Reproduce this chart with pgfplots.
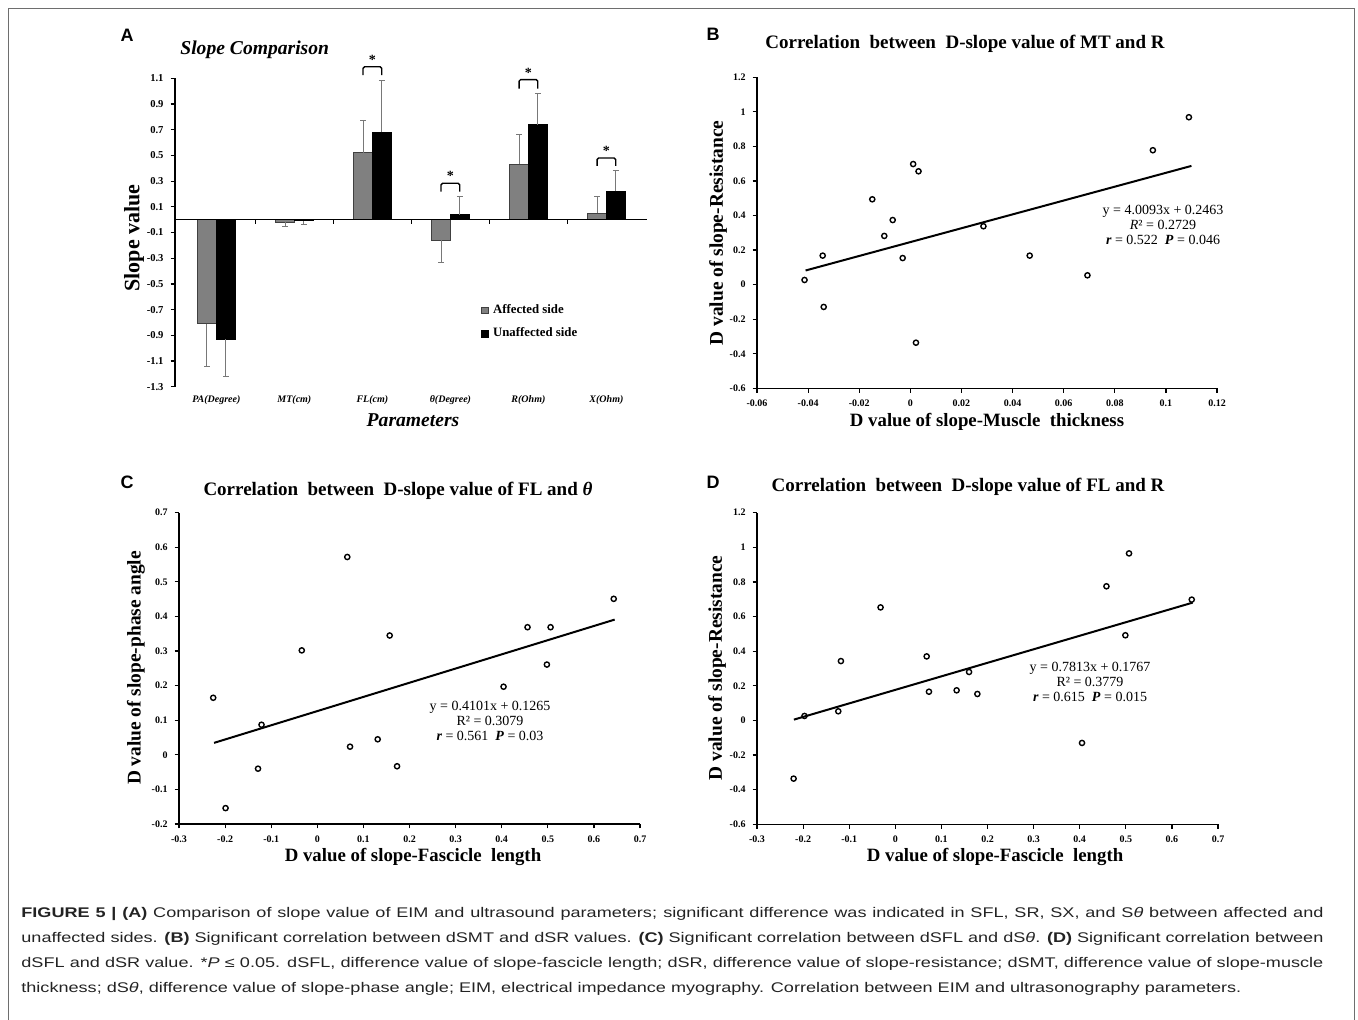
\documentclass[border=0pt]{standalone}
\usepackage{pgfplots}
\pgfplotsset{compat=1.18}
\usepackage{pgfplotstable}
\usepackage{graphicx}
\usepackage{fontspec}
\setmainfont{Liberation Serif}
\newfontfamily\capfont{Liberation Sans}
\definecolor{bargray}{RGB}{128,128,128}
\definecolor{errgray}{RGB}{120,120,120}
\definecolor{captext}{RGB}{35,35,35}
\definecolor{framegray}{RGB}{110,110,110}
\newlength\capw

\pgfplotstableread{
x y ep em
0 -0.81 0 0.33
1 -0.02 0 0.03
3 -0.16 0 0.17
}\affneg
\pgfplotstableread{
x y ep em
2 0.52 0.25 0
4 0.43 0.23 0
5 0.05 0.13 0
}\affpos
\pgfplotstableread{
x y ep em
0 -0.93 0 0.29
1 -0.01 0 0.03
}\unneg
\pgfplotstableread{
x y ep em
2 0.68 0.40 0
3 0.04 0.14 0
4 0.74 0.24 0
5 0.22 0.16 0
}\unpos

\pgfplotstableread{
x y
-0.0414 0.027
-0.0343 0.168
-0.0339 -0.129
-0.0149 0.494
-0.0102 0.282
-0.0069 0.374
-0.0030 0.154
0.0011 0.698
0.0032 0.656
0.0022 -0.336
0.0286 0.338
0.0467 0.168
0.0693 0.054
0.0949 0.778
0.1090 0.969
}\dataB
\pgfplotstableread{
x y
-0.2258 0.165
-0.199 -0.154
-0.121 0.087
-0.1286 -0.040
-0.0337 0.302
0.065 0.572
0.071 0.0236
0.131 0.045
0.157 0.345
0.173 -0.033
0.404 0.197
0.456 0.369
0.506 0.369
0.498 0.261
0.643 0.451
}\dataC
\pgfplotstableread{
x y
-0.2206 -0.336
-0.197 0.026
-0.1237 0.053
-0.118 0.343
-0.032 0.653
0.068 0.370
0.073 0.166
0.133 0.174
0.160 0.280
0.178 0.153
0.405 -0.130
0.458 0.775
0.499 0.492
0.507 0.965
0.643 0.698
}\dataD

\pgfplotsset{
  sc/.style={
    scale only axis,
    axis lines=left,
    axis line style={-, line width=0.7pt},
    tick align=outside,
    major tick length=2.2pt,
    tick style={line width=0.6pt, black},
    /pgf/number format/assume math mode=true,
    ticklabel style={font=\bfseries\fontsize{5}{6}\selectfont},
    xticklabel style={/pgf/number format/fixed, /pgf/number format/precision=2},
    yticklabel style={/pgf/number format/fixed, /pgf/number format/precision=2},
    scaled x ticks=false, scaled y ticks=false,
    clip=false,
  },
  pts/.style={only marks, mark=o, mark size=1.3pt, black, mark options={line width=0.7pt}},
  fit/.style={no marks, black, line width=1pt},
  myleg/.style={legend image code/.code={\draw[##1] (0pt,-1.6pt) rectangle (3.4pt,1.6pt);}},
  errp/.style={draw=none, mark=none, forget plot,
     error bars/.cd, y dir=plus, y explicit,
     error bar style={draw=errgray, line width=0.5pt},
     error mark options={draw=errgray, rotate=90, mark size=1.4pt, line width=0.5pt}},
  errm/.style={draw=none, mark=none, forget plot,
     error bars/.cd, y dir=minus, y explicit,
     error bar style={draw=errgray, line width=0.5pt},
     error mark options={draw=errgray, rotate=90, mark size=1.4pt, line width=0.5pt}},
}

\begin{document}%
\settowidth\capw{\capfont\fontsize{7}{9}\selectfont thickness; dS\textit{θ}, difference value of slope-phase angle; EIM, electrical impedance myography. Correlation between EIM and ultrasonography parameters.}%
\pgfmathsetmacro\capsx{610/\capw}%
\pgfmathsetlengthmacro\capfull{651/\capsx}%
\begin{tikzpicture}
\begin{scope}[x=0.5pt,y=-0.5pt]
\useasboundingbox (0,0) rectangle (1358,1019);
\draw[framegray, line width=0.6pt] (8.5,1040) -- (8.5,8.5) -- (1354.5,8.5) -- (1354.5,1040);
% panel letters
\node[font=\capfont\bfseries\fontsize{9}{10}\selectfont] at (127,35) {A};
\node[font=\capfont\bfseries\fontsize{9}{10}\selectfont] at (713,34) {B};
\node[font=\capfont\bfseries\fontsize{9}{10}\selectfont] at (127,482) {C};
\node[font=\capfont\bfseries\fontsize{9}{10}\selectfont] at (713,482) {D};
% panel A texts
\node[anchor=west, inner sep=0, font=\bfseries\itshape\fontsize{9.8}{10}\selectfont] at (180,50) {Slope Comparison};
\node[rotate=90, font=\bfseries\fontsize{11}{12}\selectfont] at (134,238) {Slope value};
\node[font=\bfseries\itshape\fontsize{9.8}{10}\selectfont] at (413,420) {Parameters};
% panel B texts
\node[font=\bfseries\fontsize{9.5}{10}\selectfont] at (965,44) {Correlation\ \ between\ \ D-slope value of MT and R};
\node[rotate=90, font=\bfseries\fontsize{9.7}{10}\selectfont] at (718,233) {D value of slope-Resistance};
\node[font=\bfseries\fontsize{9.4}{10}\selectfont] at (987,422) {D value of slope-Muscle\ \ thickness};
\node[align=center, font=\fontsize{7}{7.4}\selectfont] at (1163,225) {y = 4.0093x + 0.2463\\ \textit{R}² = 0.2729\\ \textbf{\textit{r}} = 0.522\ \ \textbf{\textit{P}} = 0.046};
% panel C texts
\node[font=\bfseries\fontsize{9.5}{10}\selectfont] at (398,491) {Correlation\ \ between\ \ D-slope value of FL and \textit{θ}};
\node[rotate=90, font=\bfseries\fontsize{9.7}{10}\selectfont] at (136,668) {D value of slope-phase angle};
\node[font=\bfseries\fontsize{9.4}{10}\selectfont] at (413,857) {D value of slope-Fascicle\ \ length};
\node[align=center, font=\fontsize{7}{7.4}\selectfont] at (490,721) {y = 0.4101x + 0.1265\\ R² = 0.3079\\ \textbf{\textit{r}} = 0.561\ \ \textbf{\textit{P}} = 0.03};
% panel D texts
\node[font=\bfseries\fontsize{9.5}{10}\selectfont] at (968,487) {Correlation\ \ between\ \ D-slope value of FL and R};
\node[rotate=90, font=\bfseries\fontsize{9.7}{10}\selectfont] at (717,668) {D value of slope-Resistance};
\node[font=\bfseries\fontsize{9.4}{10}\selectfont] at (995,857) {D value of slope-Fascicle\ \ length};
\node[align=center, font=\fontsize{7}{7.4}\selectfont] at (1090,682) {y = 0.7813x + 0.1767\\ R² = 0.3779\\ \textbf{\textit{r}} = 0.615\ \ \textbf{\textit{P}} = 0.015};
% caption
\begin{scope}[every node/.style={anchor=base west, inner sep=0, text=captext, font=\capfont\fontsize{7}{9}\selectfont}]
\node at (21,917) {\scalebox{\capsx}[1]{\makebox[\capfull][s]{\textbf{FIGURE 5 | (A)} Comparison of slope value of EIM and ultrasound parameters; significant difference was indicated in SFL, SR, SX, and S\textit{θ} between affected and}}};
\node at (21,942) {\scalebox{\capsx}[1]{\makebox[\capfull][s]{unaffected sides. \textbf{(B)} Significant correlation between dSMT and dSR values. \textbf{(C)} Significant correlation between dSFL and dS\textit{θ}. \textbf{(D)} Significant correlation between}}};
\node at (21,967) {\scalebox{\capsx}[1]{\makebox[\capfull][s]{dSFL and dSR value. *\textit{P} ≤ 0.05. dSFL, difference value of slope-fascicle length; dSR, difference value of slope-resistance; dSMT, difference value of slope-muscle}}};
\node at (21,992) {\scalebox{\capsx}[1]{thickness; dS\textit{θ}, difference value of slope-phase angle; EIM, electrical impedance myography. Correlation between EIM and ultrasonography parameters.}};
\end{scope}
\end{scope}

% ---------------- Panel A
\begin{axis}[
  at={(87.5pt,-193.35pt)}, anchor=south west,
  scale only axis, width=236pt, height=154.2pt,
  xmin=-0.53, xmax=5.52, ymin=-1.3, ymax=1.1,
  clip=false,
  axis x line*=bottom, x axis line style={draw=none},
  axis y line*=left, y axis line style={-, line width=0.7pt},
  xtick={0,1,2,3,4,5}, xtick style={draw=none},
  xticklabels={PA(Degree),MT(cm),FL(cm),θ(Degree),R(Ohm),X(Ohm)},
  xticklabel style={font=\bfseries\itshape\fontsize{5}{6}\selectfont, inner sep=1pt, yshift=-1pt},
  ytick={-1.3,-1.1,-0.9,-0.7,-0.5,-0.3,-0.1,0.1,0.3,0.5,0.7,0.9,1.1},
  yticklabel style={font=\bfseries\fontsize{5.3}{6}\selectfont, /pgf/number format/fixed, /pgf/number format/fixed zerofill, /pgf/number format/precision=1},
  /pgf/number format/assume math mode=true,
  tick align=outside, major tick length=2.2pt, ytick style={line width=0.6pt, black},
  legend style={at={(0.648,0.28)}, anchor=north west, draw=none, fill=none, inner sep=0pt,
     font=\bfseries\fontsize{6.4}{7}\selectfont, row sep=1.6pt,
     /tikz/every even column/.append style={column sep=0pt}},
  legend cell align=left,
]
\addplot[ybar, bar width=0.24, bar shift=-0.12, fill=bargray, draw=black!75, line width=0.5pt, myleg]
  table[x=x, y=y] {\affpos};
\addlegendentry{Affected side}
\addplot[ybar, bar width=0.24, bar shift=0.12, fill=black, draw=black, line width=0.5pt, myleg]
  table[x=x, y=y] {\unpos};
\addlegendentry{Unaffected side}
\addplot[ybar, bar width=0.24, bar shift=-0.12, fill=bargray, draw=black!75, line width=0.5pt, forget plot]
  table[x=x, y=y] {\affneg};
\addplot[ybar, bar width=0.24, bar shift=0.12, fill=black, draw=black, line width=0.5pt, forget plot]
  table[x=x, y=y] {\unneg};
% error bars at the bar centres
\addplot[errp] table[x expr=\thisrow{x}-0.12, y=y, y error plus=ep] {\affpos};
\addplot[errp] table[x expr=\thisrow{x}+0.12, y=y, y error plus=ep] {\unpos};
\addplot[errm] table[x expr=\thisrow{x}-0.12, y=y, y error minus=em] {\affneg};
\addplot[errm] table[x expr=\thisrow{x}+0.12, y=y, y error minus=em] {\unneg};
\draw[line width=0.8pt] (axis cs:-0.53,0) -- (axis cs:5.52,0);
\pgfplotsinvokeforeach{0.5,1.5,2.5,3.5,4.5}{\draw[line width=0.5pt] (axis cs:#1,0) -- ++(0pt,-2pt);}
% significance brackets
\draw[line width=0.7pt, rounded corners=0.8pt] (axis cs:1.88,1.125) -- (axis cs:1.88,1.19) -- (axis cs:2.12,1.19) -- (axis cs:2.12,1.125);
\node[font=\bfseries\fontsize{7}{7}\selectfont] at (axis cs:2,1.245) {*};
\draw[line width=0.7pt, rounded corners=0.8pt] (axis cs:2.88,0.218) -- (axis cs:2.88,0.283) -- (axis cs:3.12,0.283) -- (axis cs:3.12,0.218);
\node[font=\bfseries\fontsize{7}{7}\selectfont] at (axis cs:3,0.34) {*};
\draw[line width=0.7pt, rounded corners=0.8pt] (axis cs:3.88,1.02) -- (axis cs:3.88,1.09) -- (axis cs:4.12,1.09) -- (axis cs:4.12,1.02);
\node[font=\bfseries\fontsize{7}{7}\selectfont] at (axis cs:4,1.145) {*};
\draw[line width=0.7pt, rounded corners=0.8pt] (axis cs:4.88,0.418) -- (axis cs:4.88,0.48) -- (axis cs:5.12,0.48) -- (axis cs:5.12,0.418);
\node[font=\bfseries\fontsize{7}{7}\selectfont] at (axis cs:5,0.535) {*};
\end{axis}

% ---------------- Panel B
\begin{axis}[sc,
  at={(378.5pt,-194.15pt)}, anchor=south west,
  width=230pt, height=155.5pt,
  xmin=-0.06, xmax=0.12, ymin=-0.6, ymax=1.2,
  xtick={-0.06,-0.04,-0.02,0,0.02,0.04,0.06,0.08,0.1,0.12},
  ytick={-0.6,-0.4,-0.2,0,0.2,0.4,0.6,0.8,1,1.2},
]
\addplot[pts] table[x=x,y=y] {\dataB};
\addplot[fit] coordinates {(-0.041,0.0819) (0.110,0.6873)};
\end{axis}

% ---------------- Panel C
\begin{axis}[sc,
  at={(89.5pt,-412pt)}, anchor=south west,
  width=230.5pt, height=155.65pt,
  xmin=-0.3, xmax=0.7, ymin=-0.2, ymax=0.7,
  xtick={-0.3,-0.2,-0.1,0,0.1,0.2,0.3,0.4,0.5,0.6,0.7},
  ytick={-0.2,-0.1,0,0.1,0.2,0.3,0.4,0.5,0.6,0.7},
]
\addplot[pts] table[x=x,y=y] {\dataC};
\addplot[fit] coordinates {(-0.224,0.0346) (0.645,0.3910)};
\end{axis}

% ---------------- Panel D
\begin{axis}[sc,
  at={(378.5pt,-412.15pt)}, anchor=south west,
  width=230.5pt, height=155.8pt,
  xmin=-0.3, xmax=0.7, ymin=-0.6, ymax=1.2,
  xtick={-0.3,-0.2,-0.1,0,0.1,0.2,0.3,0.4,0.5,0.6,0.7},
  ytick={-0.6,-0.4,-0.2,0,0.2,0.4,0.6,0.8,1,1.2},
]
\addplot[pts] table[x=x,y=y] {\dataD};
\addplot[fit] coordinates {(-0.220,0.0048) (0.645,0.6806)};
\end{axis}
\end{tikzpicture}
\end{document}
